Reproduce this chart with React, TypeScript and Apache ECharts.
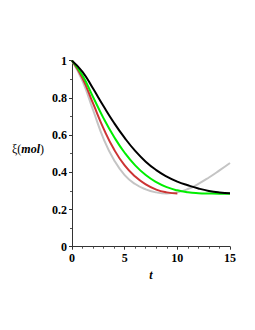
import React, { useEffect, useRef } from "react";
import * as echarts from "echarts";

const tValues = [0, 1, 2, 3, 4, 5, 6, 7, 8, 9, 10, 11, 12, 13, 14, 15];
const blackSeries = [1.0, 0.94, 0.85, 0.755, 0.665, 0.585, 0.515, 0.457, 0.412, 0.377, 0.35, 0.33, 0.313, 0.3, 0.292, 0.288];
const greenSeries = [1.0, 0.92, 0.805, 0.69, 0.59, 0.505, 0.437, 0.385, 0.347, 0.32, 0.303, 0.293, 0.288, 0.286, 0.285, 0.285];
const redSeries = [1.0, 0.905, 0.77, 0.635, 0.522, 0.437, 0.377, 0.335, 0.307, 0.292, 0.286];
const graySeries = [1.0, 0.89, 0.735, 0.58, 0.465, 0.385, 0.337, 0.308, 0.292, 0.286, 0.292, 0.31, 0.338, 0.372, 0.41, 0.45];
const xTicks = [0, 5, 10, 15];
const yTicks = [0, 0.2, 0.4, 0.6, 0.8, 1];

const font = "'Liberation Serif', 'Times New Roman', serif";

function pairs(vals: number[]) {
  return vals.map((v, i) => [tValues[i], v]);
}

export default function App() {
  const ref = useRef<HTMLDivElement>(null);
  useEffect(() => {
    if (!ref.current) return;
    const chart = echarts.init(ref.current, undefined, { renderer: "svg" });
    const lineSeries = (name: string, vals: number[], color: string) => ({
      name,
      type: "line",
      data: pairs(vals),
      smooth: true,
      showSymbol: false,
      symbol: "none",
      lineStyle: { color, width: 2 },
      z: 2,
    });
    chart.setOption({
      animation: false,
      backgroundColor: "#ffffff",
      grid: { left: 72, right: 25, top: 60.7, bottom: 83.3, containLabel: false },
      xAxis: {
        type: "value",
        min: xTicks[0],
        max: xTicks[xTicks.length - 1],
        interval: 5,
        name: "t",
        nameLocation: "middle",
        nameGap: 20,
        nameTextStyle: { fontFamily: font, fontWeight: "bold", fontStyle: "italic", fontSize: 12, color: "#000" },
        axisLine: { lineStyle: { color: "#333", width: 1 } },
        axisTick: { show: true, inside: false, length: 3, lineStyle: { color: "#333" } },
        minorTick: { show: true, splitNumber: 5, length: 2, lineStyle: { color: "#555" } },
        splitLine: { show: false },
        axisLabel: { fontFamily: font, fontWeight: "bold", fontSize: 12, color: "#000", margin: 5 },
      },
      yAxis: {
        type: "value",
        min: yTicks[0],
        max: yTicks[yTicks.length - 1],
        interval: 0.2,
        axisLine: { show: true, lineStyle: { color: "#333", width: 1 } },
        axisTick: { show: true, inside: false, length: 3, lineStyle: { color: "#333" } },
        minorTick: { show: true, splitNumber: 2, length: 2, lineStyle: { color: "#555" } },
        splitLine: { show: false },
        axisLabel: { fontFamily: font, fontWeight: "bold", fontSize: 12, color: "#000", margin: 5 },
      },
      graphic: [
        {
          type: "text",
          left: 12,
          top: 143,
          style: {
            text: "{a|ξ(}{b|mol}{a|)}",
            rich: {
              a: { fontFamily: font, fontSize: 12, fill: "#000" },
              b: { fontFamily: font, fontSize: 12, fontWeight: "bold", fontStyle: "italic", fill: "#000" },
            },
          },
        },
      ],
      series: [
        lineSeries("gray", graySeries, "#c4c4c4"),
        lineSeries("red", redSeries, "#cc3333"),
        lineSeries("green", greenSeries, "#00ee00"),
        lineSeries("black", blackSeries, "#000000"),
      ],
    });
    return () => chart.dispose();
  }, []);
  return <div ref={ref} style={{ position: "fixed", left: 0, top: 0, width: 255, height: 330 }} />;
}
